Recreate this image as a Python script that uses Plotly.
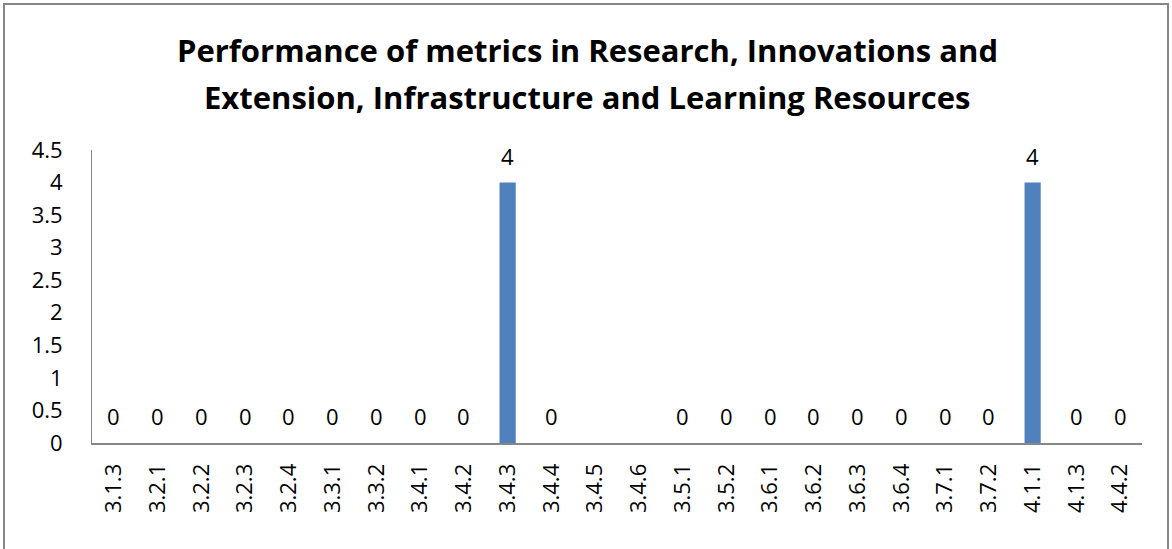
import plotly.graph_objects as go

# metrics and their scores (None = no value reported)
metrics = ["3.1.3", "3.2.1", "3.2.2", "3.2.3", "3.2.4", "3.3.1", "3.3.2", "3.4.1",
           "3.4.2", "3.4.3", "3.4.4", "3.4.5", "3.4.6", "3.5.1", "3.5.2", "3.6.1",
           "3.6.2", "3.6.3", "3.6.4", "3.7.1", "3.7.2", "4.1.1", "4.1.3", "4.4.2"]
scores = [0, 0, 0, 0, 0, 0, 0, 0,
          0, 4, 0, None, None, 0, 0, 0,
          0, 0, 0, 0, 0, 4, 0, 0]
y_ticks = [0, 0.5, 1, 1.5, 2, 2.5, 3, 3.5, 4, 4.5]
title_lines = ["Performance of metrics in Research, Innovations and",
               "Extension, Infrastructure and Learning Resources"]

FONT = "'Open Sans', sans-serif"
BAR = "#4F81BD"
AXIS = "#868686"

W, H = 1172, 549
ML, MR, MT, MB = 92, 30, 150, 106
PW, PH = W - ML - MR, H - MT - MB


def px_x(p):
    return (p - ML) / PW


def px_y(p):
    return (MT + PH - p) / PH


fig = go.Figure(go.Bar(
    x=metrics,
    y=scores,
    width=0.37,
    marker=dict(color=BAR, line=dict(width=0)),
))

# value labels above each bar (Excel style "outside end")
for m, v in zip(metrics, scores):
    if v is None:
        continue
    fig.add_annotation(
        x=m, y=v, text=str(v), showarrow=False,
        yanchor="bottom", yshift=10,
        font=dict(family=FONT, size=22, color="#000000"),
    )

# two-line title, centred on the chart frame
for i, line in enumerate(title_lines):
    fig.add_annotation(
        xref="paper", yref="paper", x=px_x(587), y=px_y(50 + 47 * i),
        text=f"<b>{line}</b>", showarrow=False,
        xanchor="center", yanchor="middle",
        font=dict(family=FONT, size=31, color="#000000"),
    )

# chart-area frame
fig.add_shape(
    type="rect", xref="paper", yref="paper",
    x0=px_x(4), x1=px_x(1168), y0=px_y(560), y1=px_y(4),
    line=dict(color=AXIS, width=2), fillcolor="rgba(0,0,0,0)", layer="below",
)

fig.update_layout(
    width=W, height=H,
    margin=dict(l=ML, r=MR, t=MT, b=MB, autoexpand=False),
    paper_bgcolor="white", plot_bgcolor="white",
    showlegend=False,
    font=dict(family=FONT, size=22, color="#000000"),
    xaxis=dict(
        type="category", showgrid=False, ticks="", showline=True, automargin=False,
        linecolor=AXIS, linewidth=2, tickangle=-90, ticklabelstandoff=10,
        tickfont=dict(size=22, color="#000000"),
    ),
    yaxis=dict(
        range=[0, 4.5], tickvals=y_ticks, ticktext=[f"{t:g}" for t in y_ticks],
        showgrid=False, zeroline=False, ticks="", showline=True, automargin=False,
        linecolor=AXIS, linewidth=1, ticklabelstandoff=24,
        tickfont=dict(size=22, color="#000000"),
    ),
)

# drop the browser's default body margin so the figure sits at the page corner
fig.write_html(
    "out.html",
    config={"displayModeBar": False},
    post_script="document.body.style.margin = '0';",
)
